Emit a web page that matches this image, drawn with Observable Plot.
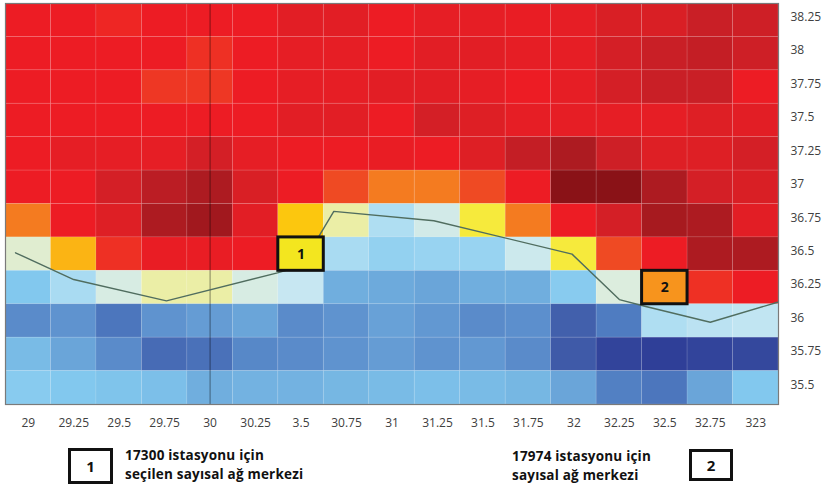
<!DOCTYPE html>
<html>
<head>
<meta charset="utf-8">
<script src="https://cdn.jsdelivr.net/npm/d3@7"></script>
<script src="https://cdn.jsdelivr.net/npm/@observablehq/plot@0.6"></script>
<style>
  html, body { margin: 0; padding: 0; background: #fff; }
  #wrap { position: relative; width: 829px; height: 491px; }
  #notes { position: absolute; left: 0; top: 0; width: 829px; height: 491px; pointer-events: none;
           font-family: "Open Sans", sans-serif; font-weight: 700; font-size: 13.5px; color: #111; }
  .box { position: absolute; box-sizing: border-box; border: 3px solid #111; display: flex;
         align-items: center; justify-content: center; font-weight: 700; font-size: 15px; }
  .txt { position: absolute; line-height: 18px; white-space: nowrap; letter-spacing: 0.2px; }
</style>
</head>
<body>
<div id="wrap">
  <div id="chart"></div>
  <div id="notes">
    <div class="box" style="left:68px;top:448px;width:45px;height:36px;">1</div>
    <div class="txt" style="left:125px;top:446px;">17300 istasyonu için</div>
    <div class="txt" style="left:125px;top:465px;">seçilen sayısal ağ merkezi</div>
    <div class="txt" style="left:512px;top:447px;">17974 istasyonu için</div>
    <div class="txt" style="left:512px;top:466px;">sayısal ağ merkezi</div>
    <div class="box" style="left:689px;top:449px;width:44px;height:32px;">2</div>
  </div>
</div>
<script>
// Column centres (longitude) and their printed labels
const lons = [29, 29.25, 29.5, 29.75, 30, 30.25, 30.5, 30.75, 31, 31.25, 31.5, 31.75, 32, 32.25, 32.5, 32.75, 33];
const xTickLabels = ["29", "29.25", "29.5", "29.75", "30", "30.25", "3.5", "30.75", "31", "31.25", "31.5", "31.75", "32", "32.25", "32.5", "32.75", "323"];
// Row centres (latitude) and labels, top to bottom
const lats = [38.25, 38, 37.75, 37.5, 37.25, 37, 36.75, 36.5, 36.25, 36, 35.75, 35.5];
const yTickLabels = ["38.25", "38", "37.75", "37.5", "37.25", "37", "36.75", "36.5", "36.25", "36", "35.75", "35.5"];

// Cell values (0 = deep blue ... 100 = deep red), one row per latitude, top to bottom
const grid = [
  [80, 80, 79, 80, 80, 80, 83, 83, 80, 82, 82, 81, 82, 85, 85, 88, 87],
  [80, 80, 80, 80, 78, 80, 82, 82, 80, 83, 83, 82, 82, 86, 88, 89, 87],
  [80, 80, 80, 77, 77, 80, 82, 82, 83, 83, 82, 80, 82, 86, 88, 88, 80],
  [80, 80, 80, 80, 80, 80, 83, 83, 80, 86, 84, 82, 82, 82, 82, 84, 83],
  [80, 82, 82, 82, 86, 82, 80, 80, 81, 80, 84, 89, 94, 87, 84, 84, 86],
  [80, 80, 86, 91, 94, 85, 80, 74, 69, 69, 74, 80, 100, 100, 94, 86, 85],
  [69, 80, 84, 94, 96, 83, 63, 50, 38, 44, 58, 69, 80, 86, 95, 94, 83],
  [47, 65, 78, 81, 81, 80, 58, 37, 33, 34, 34, 43, 58, 74, 80, 94, 94],
  [30, 37, 45, 50, 50, 45, 42, 24, 23, 22, 24, 24, 31, 46, 68, 78, 80],
  [16, 18, 11, 18, 20, 22, 16, 18, 21, 19, 16, 17, 7, 12, 38, 40, 41],
  [27, 22, 16, 9, 10, 15, 16, 18, 20, 18, 19, 16, 6, 1, 0, 1, 2],
  [31, 30, 29, 28, 24, 25, 25, 26, 27, 28, 27, 26, 22, 13, 11, 22, 30]
];

// The grey polyline across the map
const lineLon = [28.93, 29.25, 29.76, 30.37, 30.5, 30.68, 31.23, 31.99, 32.25, 32.39, 32.75, 33.12];
const lineLat = [36.51, 36.31, 36.15, 36.36, 36.41, 36.82, 36.75, 36.5, 36.16, 36.11, 35.99, 36.14];

// Marked grid centres
const markerIds = ["1", "2"];
const markerLon = [30.5, 32.5];
const markerLat = [36.5, 36.25];

// Vertical seam line
const seamLon = [30];

const half = 0.125;
const cells = [];
grid.forEach((row, r) => row.forEach((v, c) => cells.push({lon: lons[c], lat: lats[r], v})));
const line = lineLon.map((lon, i) => ({lon, lat: lineLat[i]}));
const markers = markerIds.map((id, i) => ({id, lon: markerLon[i], lat: markerLat[i]}));
const markerFill = {"1": "#f3e61f", "2": "#f7941d"};

const xLab = new Map(lons.map((d, i) => [d, xTickLabels[i]]));
const yLab = new Map(lats.map((d, i) => [d, yTickLabels[i]]));

const stops = [0, 6, 12, 18, 24, 30, 36, 42, 46, 50, 58, 63, 66, 69, 74, 78, 80, 84, 88, 94, 100];
const colors = ["#2f3f98", "#3f5aa8", "#4f7cc1", "#5f93cf", "#70aede", "#82c8ee", "#a3d9f2", "#c7e7f2",
                "#dcedde", "#ebeea6", "#f6ea3c", "#fcc70e", "#fbab17", "#f47b20", "#ef4a23", "#ee3024",
                "#ed1c24", "#de1f25", "#c91f26", "#ad1b21", "#8a1217"];

const chart = Plot.plot({
  width: 829,
  height: 430,
  marginLeft: 5,
  marginRight: 51,
  marginTop: 3,
  marginBottom: 26,
  style: {fontFamily: "'Open Sans', sans-serif", fontSize: "12px", color: "#404040", background: "#fff"},
  x: {type: "linear", domain: [lons[0] - half, lons[lons.length - 1] + half], label: null},
  y: {type: "linear", domain: [lats[lats.length - 1] - half, lats[0] + half], label: null},
  color: {type: "linear", domain: stops, range: colors, interpolate: "rgb", clamp: true},
  marks: [
    Plot.rect(cells, {
      x1: d => d.lon - half, x2: d => d.lon + half,
      y1: d => d.lat - half, y2: d => d.lat + half,
      fill: "v", stroke: "#ffffff", strokeOpacity: 0.12, strokeWidth: 0.8
    }),
    Plot.ruleX(seamLon, {stroke: "#000", strokeOpacity: 0.3, strokeWidth: 1.5}),
    Plot.line(line, {x: "lon", y: "lat", stroke: "#506d5f", strokeWidth: 1.4}),
    Plot.rect(markers, {
      x1: d => d.lon - half, x2: d => d.lon + half,
      y1: d => d.lat - half, y2: d => d.lat + half,
      fill: d => markerFill[d.id], stroke: "#111", strokeWidth: 3
    }),
    Plot.text(markers, {x: "lon", y: "lat", text: "id", fontWeight: "bold", fontSize: 14, fill: "#111"}),
    Plot.frame({stroke: "#7a7a7a", strokeWidth: 1.2}),
    Plot.axisX(lons, {anchor: "bottom", label: null, tickSize: 0, tickPadding: 14, tickFormat: d => xLab.get(d), fontSize: 12, fill: "#404040"}),
    Plot.axisY(lats, {anchor: "right", label: null, tickSize: 0, tickPadding: 12, dy: -3, tickFormat: d => yLab.get(d), fontSize: 12, fill: "#404040", textAnchor: "start"})
  ]
});
document.getElementById("chart").appendChild(chart);
</script>
</body>
</html>
